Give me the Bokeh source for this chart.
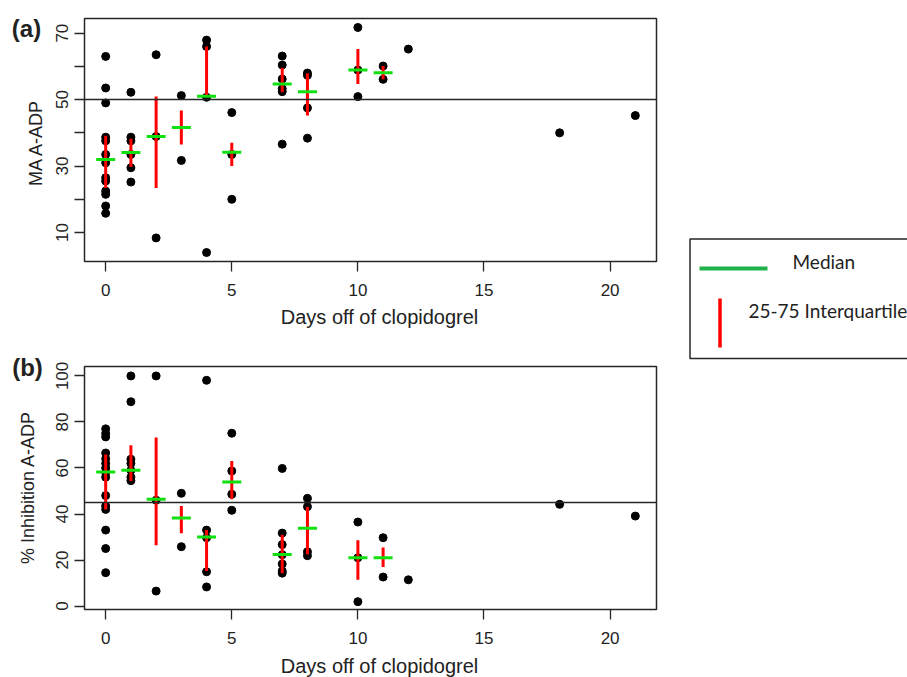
import math
from bokeh.plotting import figure
from bokeh.layouts import row, column
from bokeh.models import Range1d, FixedTicker, Span
from bokeh.embed import file_html
from bokeh.resources import INLINE
from bokeh.core.properties import value

# ---------------- data ----------------
ma_days = [0]*13 + [1]*6 + [2]*3 + [3]*2 + [4]*4 + [5]*3 + [7]*6 + [8]*4 + [10]*3 + [11]*2 + [12, 18, 21]
ma_vals = [63, 53.5, 49, 38.7, 37.6, 33.5, 31, 26.5, 25.5, 22.5, 21.5, 18, 15.8,
           52.2, 38.7, 37.6, 33.5, 29.5, 25.2,
           63.5, 38.9, 8.4,
           51.2, 31.7,
           67.9, 66, 50.7, 4,
           46.1, 33.5, 20,
           63.1, 60.4, 56.2, 53.3, 52.4, 36.6,
           58, 57.3, 47.5, 38.4,
           71.7, 58.9, 50.9,
           60.1, 56.1,
           65.2, 40, 45.2]

inh_days = [0]*15 + [1]*7 + [2]*3 + [3]*2 + [4]*5 + [5]*4 + [7]*7 + [8]*4 + [10]*3 + [11]*2 + [12, 18, 21]
inh_vals = [77, 75, 73.5, 66.5, 64, 62, 60, 58, 56, 48, 43.5, 42, 33, 25, 14.5,
            100, 88.8, 63.8, 62, 59, 56, 54.5,
            100, 46, 6.5,
            49, 25.8,
            98.1, 33, 29.7, 14.9, 8.3,
            75.1, 58.7, 48.6, 41.6,
            59.8, 31.7, 26.7, 22.3, 18.3, 15.2, 14.3,
            46.8, 43.2, 23.6, 21.9,
            36.5, 21, 1.9,
            29.7, 12.6,
            11.4, 44.2, 39.1]

sum_days = [0, 1, 2, 3, 4, 5, 7, 8, 10, 11]
ma_median = [32, 34.1, 38.9, 41.6, 51, 34.2, 54.7, 52.4, 58.9, 58.1]
ma_q25 = [23.4, 29.7, 23.4, 36.5, 50.7, 30, 52.2, 45.2, 54.7, 56.1]
ma_q75 = [39.1, 38.2, 50.9, 46.7, 66, 37, 59.6, 57.9, 65.2, 60.1]
inh_median = [58.3, 59, 46.4, 38.3, 30, 53.9, 22.4, 33.8, 21, 21]
inh_q25 = [42, 54.3, 26.4, 31.6, 15.2, 46.4, 14.2, 22.5, 11.4, 17]
inh_q75 = [65.9, 69.9, 73.2, 43.5, 33, 63, 31, 43, 28.6, 25.4]

ma_ref = 50
inh_ref = 45
x_ticks = [0, 5, 10, 15, 20]
ma_ticks = [10, 20, 30, 40, 50, 60, 70]
ma_tick_labels = {20: "", 40: "", 60: ""}
inh_ticks = [0, 20, 40, 60, 80, 100]
x_title = "Days off of clopidogrel"
ma_title = "MA A-ADP"
inh_title = "% Inhibition A-ADP"
legend_labels = ["Median", "25-75 Interquartile"]

# ---------------- style / layout ----------------
AX_FONT = "Liberation Sans"
LEG_FONT = "Lato"
TXT = "#222222"
GREEN = "#10e010"
LEG_GREEN = "#1fb24a"
RED = "#ff0000"
FRAME_COL = "#262626"
LEFT_W, PANEL_W, LEG_W = 44, 632, 231
H_A, H_TA, H_B, H_TB = 305, 25, 325, 22
TOTAL_H = H_A + H_TA + H_B + H_TB
X0, X1 = -0.84, 21.84


def strip(w, h):
    """plain drawing area in pixel units (y downward) for texts around the panels"""
    s = figure(width=w, height=h, output_backend="svg", toolbar_location=None,
               x_range=Range1d(0, w), y_range=Range1d(h, 0), title=None, min_border=0)
    s.axis.visible = False
    s.xgrid.visible = False
    s.ygrid.visible = False
    s.outline_line_color = None
    s.background_fill_color = "white"
    s.border_fill_color = "white"
    return s


def put_text(s, x, y, text, font=AX_FONT, size="18px", bold=False, angle=0.0,
             align="center"):
    s.text(x=[x], y=[y], text=[text], text_font=value(font), text_font_size=size,
           text_font_style="bold" if bold else "normal", text_align=align,
           text_baseline="middle", text_color=TXT, angle=angle)


def panel(height, border_top, border_bottom, y0, y1, yticks):
    p = figure(width=PANEL_W, height=height, output_backend="svg", toolbar_location=None,
               x_range=Range1d(X0, X1), y_range=Range1d(y0, y1), title=None,
               min_border_left=40, min_border_right=20,
               min_border_top=border_top, min_border_bottom=border_bottom)
    p.xgrid.visible = False
    p.ygrid.visible = False
    p.outline_line_color = FRAME_COL
    p.outline_line_width = 1.5
    p.background_fill_color = "white"
    p.border_fill_color = "white"
    p.xaxis.ticker = FixedTicker(ticks=x_ticks)
    p.yaxis.ticker = FixedTicker(ticks=yticks)
    for ax in (p.xaxis[0], p.yaxis[0]):
        ax.axis_line_color = None
        ax.major_tick_out = 10
        ax.major_tick_in = 0
        ax.minor_tick_line_color = None
        ax.major_tick_line_color = FRAME_COL
        ax.major_tick_line_width = 1.3
        ax.major_label_text_font = AX_FONT
        ax.major_label_text_font_size = "17px"
        ax.major_label_text_color = TXT
    p.xaxis.major_label_standoff = 12
    p.yaxis.major_label_standoff = 6
    p.yaxis.major_label_orientation = "parallel"
    return p


def draw(p, dx, dy, ref, med, q25, q75):
    p.add_layout(Span(location=ref, dimension="width", line_color=FRAME_COL, line_width=1.5))
    p.scatter(dx, dy, size=8, color="black")
    p.segment(x0=sum_days, y0=q25, x1=sum_days, y1=q75, line_color=RED, line_width=3)
    p.scatter(sum_days, med, marker="dash", size=19, line_color=GREEN, line_width=3)


# left strip: panel letters and y-axis titles
left = strip(LEFT_W, TOTAL_H)
put_text(left, 26, 28, "(a)", size="24px", bold=True)
put_text(left, 27, 367, "(b)", size="24px", bold=True)
put_text(left, 35, 142, ma_title, angle=math.pi / 2)
put_text(left, 27, 487, inh_title, angle=math.pi / 2)

# panel (a)
pa = panel(H_A, 18, 44, 1.3, 74.4, ma_ticks)
pa.yaxis.major_label_overrides = ma_tick_labels
draw(pa, ma_days, ma_vals, ma_ref, ma_median, ma_q25, ma_q75)

ta = strip(PANEL_W, H_TA)
put_text(ta, 326, 11, x_title, size="20px")

# panel (b)
pb = panel(H_B, 36, 46, -1.5, 104.1, inh_ticks)
draw(pb, inh_days, inh_vals, inh_ref, inh_median, inh_q25, inh_q75)

tb = strip(PANEL_W, H_TB)
put_text(tb, 326, 10, x_title, size="20px")

# legend strip
pl = strip(LEG_W, TOTAL_H)
pl.quad(left=[13.5], right=[LEG_W + 20], top=[238.5], bottom=[358], fill_color=None,
        line_color=FRAME_COL, line_width=1.5)
pl.segment(x0=[23], y0=[268], x1=[91], y1=[268], line_color=LEG_GREEN, line_width=4)
pl.segment(x0=[43.5], y0=[298], x1=[43.5], y1=[347], line_color=RED, line_width=3.5)
put_text(pl, 116, 260.5, legend_labels[0], font=LEG_FONT, size="19px", align="left")
put_text(pl, 72, 310, legend_labels[1], font=LEG_FONT, size="19px", align="left")

layout = row(left, column(pa, ta, pb, tb), pl)
open("out.html", "w").write(file_html(layout, INLINE))
